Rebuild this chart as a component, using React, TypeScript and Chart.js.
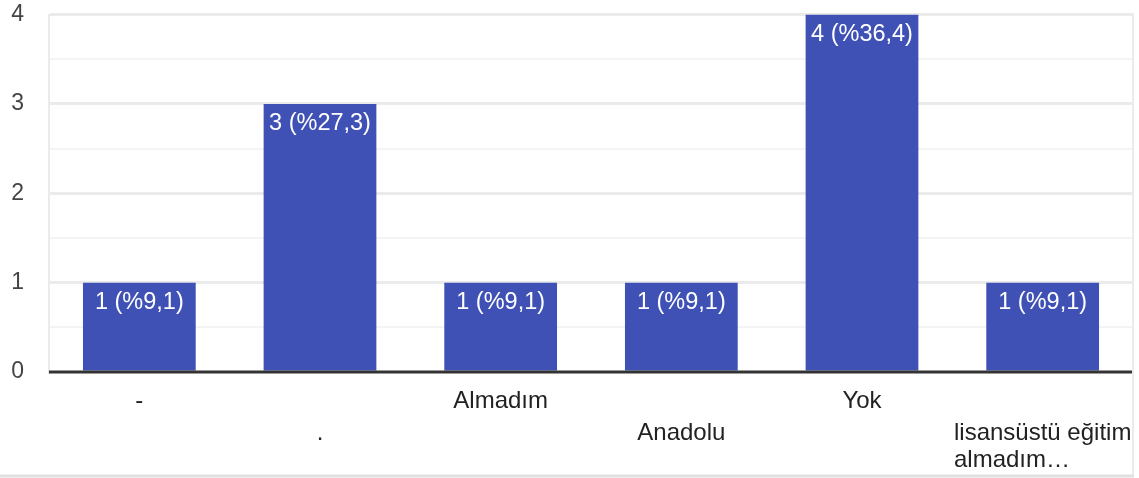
import React, { useEffect, useRef } from "react";
import { Chart, registerables } from "chart.js";

Chart.register(...registerables);

const categories: string[] = ["-", ".", "Almadım", "Anadolu", "Yok", "lisansüstü eğitim almadım…"];
const counts: number[] = [1, 3, 1, 1, 4, 1];
const yTickValues: number[] = [0, 1, 2, 3, 4];

const FONT = '"Liberation Sans", Arial, sans-serif';
const BAR_COLOR = "#3f51b5";

function wrap(ctx: CanvasRenderingContext2D, text: string, maxW: number): string[] {
  const words = text.split(" ");
  const lines: string[] = [];
  let cur = "";
  for (const w of words) {
    const t = cur ? cur + " " + w : w;
    if (ctx.measureText(t).width <= maxW || !cur) cur = t;
    else {
      lines.push(cur);
      cur = w;
    }
  }
  if (cur) lines.push(cur);
  return lines;
}

const overlayPlugin = {
  id: "overlay",
  afterDatasetsDraw(chart: any) {
    const { ctx, chartArea, scales } = chart;
    const x = scales.x;
    const y = scales.y;
    const total = counts.reduce((a, b) => a + b, 0);
    ctx.save();
    // baseline
    const y0 = y.getPixelForValue(0);
    ctx.strokeStyle = "#333333";
    ctx.lineWidth = 3;
    ctx.beginPath();
    ctx.moveTo(chartArea.left, y0);
    ctx.lineTo(chartArea.right, y0);
    ctx.stroke();
    // right border
    ctx.strokeStyle = "#ebebeb";
    ctx.lineWidth = 2;
    ctx.beginPath();
    ctx.moveTo(chartArea.right, chartArea.top - 1.5);
    ctx.lineTo(chartArea.right, chart.height - 3);
    ctx.stroke();
    // bottom border
    ctx.strokeStyle = "#e0e0e0";
    ctx.lineWidth = 3;
    ctx.beginPath();
    ctx.moveTo(0, chart.height - 2);
    ctx.lineTo(chartArea.right + 1, chart.height - 2);
    ctx.stroke();
    // bar labels
    const meta = chart.getDatasetMeta(0);
    ctx.font = `23.5px ${FONT}`;
    ctx.fillStyle = "#ffffff";
    ctx.textAlign = "center";
    ctx.textBaseline = "alphabetic";
    meta.data.forEach((bar: any, i: number) => {
      const v = counts[i];
      const pct = ((v / total) * 100).toFixed(1).replace(".", ",");
      ctx.fillText(`${v} (%${pct})`, bar.x, bar.y + 26);
    });
    // x labels
    ctx.font = `24px ${FONT}`;
    ctx.fillStyle = "#222222";
    ctx.textAlign = "left";
    const catW = (chartArea.right - chartArea.left) / categories.length;
    categories.forEach((c, i) => {
      const cx = x.getPixelForValue(i);
      const lines = wrap(ctx, c, catW);
      const maxW = Math.max(...lines.map((l) => ctx.measureText(l).width));
      const left = cx - maxW / 2;
      const base = y0 + (i % 2 === 0 ? 36 : 68);
      lines.forEach((l, k) => ctx.fillText(l, left, base + k * 27));
    });
    ctx.restore();
  },
};

export default function App() {
  const ref = useRef<HTMLCanvasElement | null>(null);
  useEffect(() => {
    document.body.style.margin = "0";
    if (!ref.current) return;
    const chart = new Chart(ref.current, {
      type: "bar",
      data: {
        labels: categories,
        datasets: [
          {
            data: counts,
            backgroundColor: BAR_COLOR,
            barPercentage: 0.624,
            categoryPercentage: 1,
          },
        ],
      },
      options: {
        animation: false,
        responsive: true,
        maintainAspectRatio: false,
        layout: { padding: { top: 14.5, right: 6, left: 0, bottom: 106 } },
        plugins: { legend: { display: false }, tooltip: { enabled: false } },
        scales: {
          x: { display: false },
          y: {
            min: 0,
            max: 4,
            afterFit: (s: any) => {
              s.width = 49;
              s.paddingTop = 0;
              s.paddingBottom = 0;
            },
            afterBuildTicks: (s: any) => {
              const t: any[] = [];
              yTickValues.forEach((v, i) => {
                t.push({ value: v });
                if (i < yTickValues.length - 1) t.push({ value: v + 0.5 });
              });
              s.ticks = t;
            },
            ticks: {
              padding: 25,
              color: "#444444",
              font: { family: FONT, size: 23 },
              callback: (v: any) => (Number(v) % 1 === 0 ? String(v) : ""),
            },
            grid: {
              drawTicks: false,
              color: (c: any) =>
                c.tick && c.tick.value === 0 ? "rgba(0,0,0,0)" : c.tick && c.tick.value % 1 === 0 ? "#ebebeb" : "#f4f4f4",
              lineWidth: (c: any) => (c.tick && c.tick.value % 1 === 0 ? 3 : 2),
            },
            border: { display: true, color: "#ebebeb", width: 2 },
          },
        },
      },
      plugins: [overlayPlugin],
    });
    return () => chart.destroy();
  }, []);
  return (
    <div style={{ width: 1139, height: 478, position: "relative" }}>
      <canvas ref={ref} />
    </div>
  );
}
